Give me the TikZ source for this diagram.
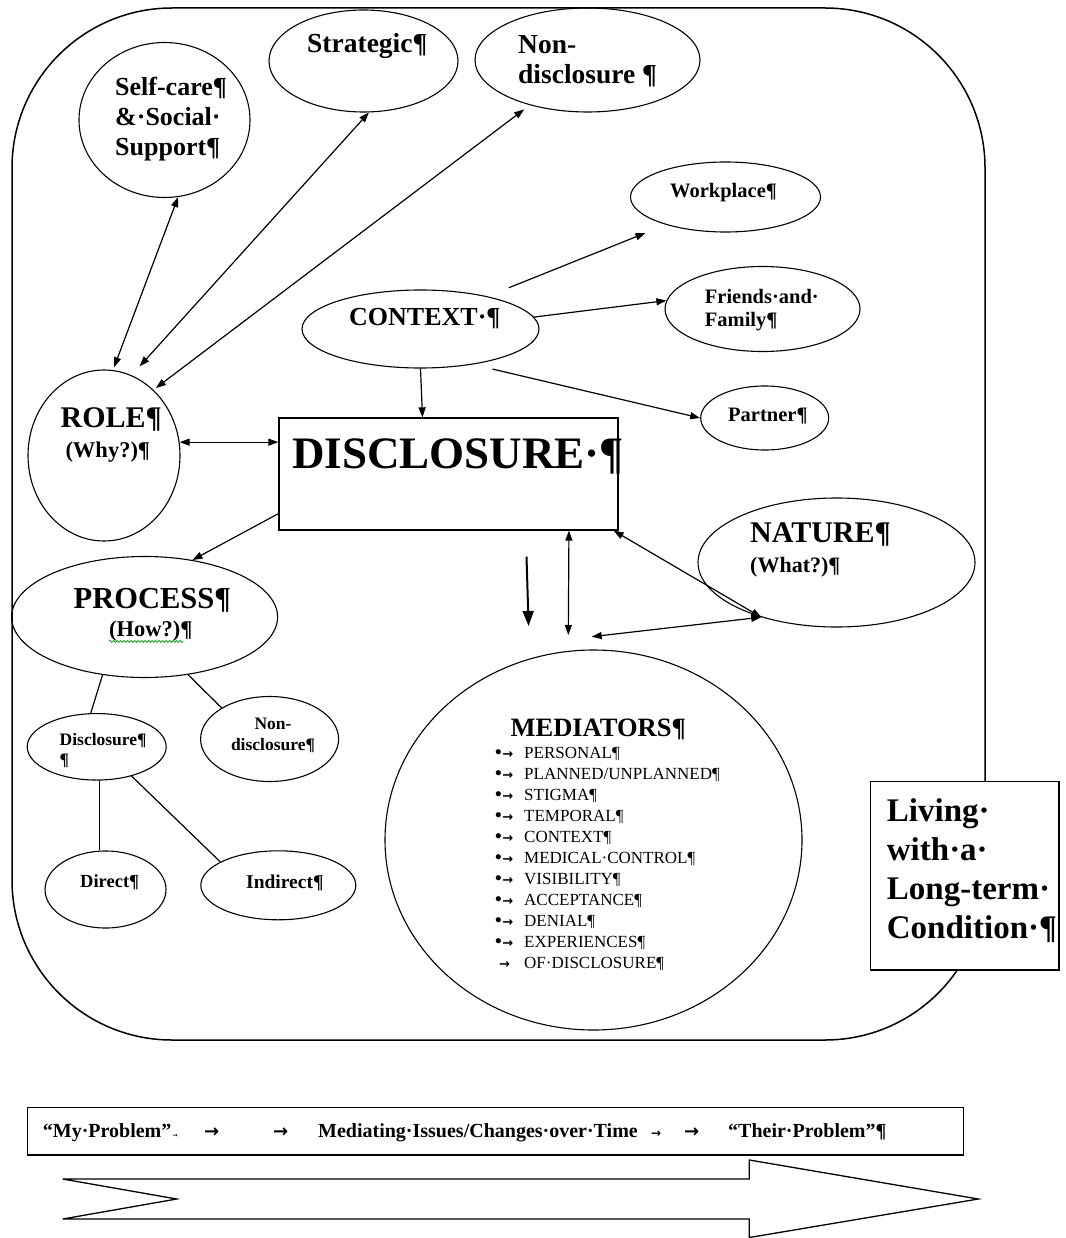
\documentclass[tikz,border=0pt]{standalone}
\usepackage{fontspec}
\setmainfont{Liberation Serif}
\newfontfamily\arrfont{DejaVu Sans}
\usetikzlibrary{shapes.geometric,arrows.meta,calc,decorations.pathmorphing}
\newcommand{\fsz}[2]{\fontsize{#1}{#2}\selectfont}
\newcommand{\medbul}{\makebox[29pt][l]{{\bfseries\fontsize{19}{19}\selectfont •}\hspace{0.5pt}{\arrfont\bfseries\fontsize{13}{13}\selectfont →}}}
\newcommand{\mednob}{\makebox[29pt][l]{\hspace{4pt}{\arrfont\bfseries\fontsize{13}{13}\selectfont →}}}
\newcommand{\tabarr}[1]{{\arrfont\bfseries\fontsize{#1}{#1}\selectfont →}}
\begin{document}
\begin{tikzpicture}[x=1pt,y=-1pt,
  ell/.style={draw, ellipse, inner sep=0pt, line width=1.1pt},
  txt/.style={anchor=west, inner sep=0pt, align=left},
  btxt/.style={anchor=base west, inner sep=0pt, font=\bfseries\fsz{20}{24}},
  lnk/.style={line width=1.2pt},
  tipone/.style={lnk, -{Triangle[length=10pt,width=7pt]}},
  tiptwo/.style={lnk, {Triangle[length=10pt,width=7pt]}-{Triangle[length=10pt,width=7pt]}}
]
\useasboundingbox (0,0) rectangle (1065,1238);
% outer frame
\draw[line width=1.5pt, rounded corners=160pt] (12,8) rectangle (985,1040);

% shapes
\node[ell, minimum width=171pt, minimum height=155pt] (self) at (164.5,120) {};
\node[ell, minimum width=189pt, minimum height=102pt] (strat) at (363.5,61) {};
\node[ell, minimum width=225pt, minimum height=104pt] (ndtop) at (587.5,60) {};
\node[ell, minimum width=190pt, minimum height=70pt] (work) at (725.5,197) {};
\node[ell, minimum width=195pt, minimum height=85pt] (friends) at (762.5,309) {};
\node[ell, minimum width=237pt, minimum height=78pt] (context) at (420.5,329) {};
\node[ell, minimum width=128pt, minimum height=64pt] (partner) at (764.7,418) {};
\node[ell, minimum width=152pt, minimum height=171pt] (role) at (104,455.5) {};
\node[draw, line width=1.3pt, minimum width=339pt, minimum height=112pt, inner sep=0pt] (disc) at (448.5,474) {};
\node[ell, minimum width=277pt, minimum height=129pt] (nature) at (836.5,562.5) {};
\node[ell, minimum width=266pt, minimum height=121pt] (proc) at (144.6,617) {};
\node[ell, minimum width=139pt, minimum height=66.5pt] (dsm) at (96.7,746.8) {};
\node[ell, minimum width=138pt, minimum height=85pt] (ndsm) at (269.6,739) {};
\node[ell, minimum width=121pt, minimum height=77pt] (direct) at (105.5,889.5) {};
\node[ell, minimum width=155pt, minimum height=69pt] (indirect) at (278.3,885.3) {};
\node[ell, minimum width=417pt, minimum height=380pt] (med) at (593.5,840) {};
\node[draw, fill=white, line width=1.3pt, minimum width=188.3pt, minimum height=188.3pt, inner sep=0pt] (living) at (964.85,875.85) {};
\node[draw, line width=1.3pt, minimum width=936pt, minimum height=47.3pt, inner sep=0pt] (bar) at (495.3,1131.3) {};

% big arrow
\draw[line width=1.3pt, line join=miter] (62.7,1179) -- (749.3,1179) -- (749.3,1160) -- (978.3,1199)
  -- (749.3,1237.5) -- (749.3,1219) -- (62.7,1219) -- (176.7,1199) -- cycle;

% free coordinates
\coordinate (medtop) at (568.3,635);
\coordinate (medtip) at (591.7,636.7);
\coordinate (fa1) at (526.5,556.7);
\coordinate (fa2) at (528.6,626);

% connectors
\draw[tiptwo, shorten >=3pt] (self.-80) -- (role.84);
\draw[tiptwo, shorten >=12pt] (strat.-84) -- (role.71);
\draw[tiptwo, shorten <=7pt, shorten >=3pt] (ndtop.-142) -- (role.53);
\draw[tipone, shorten <=23pt, shorten >=22pt] (context.26) -- (work.-155);
\draw[tipone] (context.6) -- (friends.175);
\draw[tipone, shorten <=20pt] (context.-34) -- (partner.west);
\draw[tipone] (context.south) -- ($(context.south |- disc.north)+(2,0)$);
\draw[tiptwo] (role.10) -- (role.10 -| disc.west);
\draw[tipone] ($(disc.south west)+(0,-17)$) -- (proc.50);
\draw[tiptwo] ([xshift=-49.7pt]disc.south east) -- (medtop);
\draw[tiptwo] ([xshift=-5pt]disc.south east) -- (nature.-144);
\draw[tiptwo] (nature.-144) -- (medtip);
\draw[line width=2pt, -{Triangle[length=15pt,width=11pt]}] (fa1) -- (fa2);
\draw[lnk] (proc.-126) -- (dsm.100);
\draw[lnk] (proc.-53) -- (ndsm.147);
\draw[lnk] ([xshift=3pt]dsm.south) -- ([xshift=3pt]dsm.south |- direct.north);
\draw[lnk] (dsm.-40) -- (indirect.158);

% texts
\node[txt, font=\bfseries\fsz{26}{30}] (selfT) at (115,119) {Self-care¶\\\&·Social·\\Support¶};
\node[txt, font=\bfseries\fsz{27.5}{30}] (stratT) at (307,46) {Strategic¶};
\node[txt, font=\bfseries\fsz{27.5}{30}] (ndtopT) at (518,61.5) {Non-\\disclosure ¶};
\node[txt, font=\bfseries\fsz{20.5}{23.5}] (workT) at (670,192.5) {Workplace¶};
\node[txt, font=\bfseries\fsz{20.5}{23.5}] (friendsT) at (704.7,310) {Friends·and·\\Family¶};
\node[txt, font=\bfseries\fsz{26}{30}] (contextT) at (349,318.5) {CONTEXT·¶};
\node[txt, font=\bfseries\fsz{20.5}{23.5}] (partnerT) at (728,416) {Partner¶};
\node[txt, font=\bfseries\fsz{30}{34}] (roleT) at (60.4,419.5) {ROLE¶};
\node[txt, font=\bfseries\fsz{22.5}{26}] (whyT) at (65.3,452.5) {(Why?)¶};
\node[txt, font=\bfseries\fsz{45}{50}] (discT) at (291.8,456) {DISCLOSURE·¶};
\node[txt, font=\bfseries\fsz{30}{34}] (natureT) at (750,534.5) {NATURE¶};
\node[txt, font=\bfseries\fsz{22}{26}] (whatT) at (750,567.5) {(What?)¶};
\node[txt, font=\bfseries\fsz{30.5}{34}] (procT) at (73.5,600) {PROCESS¶};
\node[txt, font=\bfseries\fsz{22.5}{26}] (howT) at (109,631) {(How?)¶};
\draw[green!60!black, line width=0.7pt, decorate, decoration={snake, amplitude=1pt, segment length=3.5pt}]
  ($(howT.south west)+(0,0)$) -- ($(howT.south west)+(74,0)$);
\node[txt, font=\bfseries\fsz{17.5}{20}] (dsmT) at (59.5,751) {Disclosure¶\\¶};
\node[inner sep=0pt, align=center, font=\bfseries\fsz{17.5}{21}] (ndsmT) at (273,735.5) {Non-\\disclosure¶};
\node[txt, font=\bfseries\fsz{18.5}{22}] (directT) at (80,882) {Direct¶};
\node[txt, font=\bfseries\fsz{19.5}{23}] (indirectT) at (246,883) {Indirect¶};
\node[txt, font=\bfseries\fsz{26.5}{30}] (medT) at (510.4,729) {MEDIATORS¶};
\node[txt, font=\fsz{17}{21}] (medL) at (495,859) {\medbul PERSONAL¶\\\medbul PLANNED/UNPLANNED¶\\\medbul STIGMA¶\\\medbul TEMPORAL¶\\\medbul CONTEXT¶\\\medbul MEDICAL·CONTROL¶\\\medbul VISIBILITY¶\\\medbul ACCEPTANCE¶\\\medbul DENIAL¶\\\medbul EXPERIENCES¶\\\mednob OF·DISCLOSURE¶};
\node[txt, font=\bfseries\fsz{33}{39}] (livT) at (886.7,870.5) {Living·\\with·a·\\Long-term·\\Condition·¶};

% bottom strip text
\node[btxt] (b1) at (42.7,1137) {“My·Problem”};
\node[btxt] (b1a) at (172.5,1137) {\tabarr{6}};
\node[btxt] (b2) at (204,1137) {\tabarr{18}};
\node[btxt] (b3) at (273,1137) {\tabarr{18}};
\node[btxt] (b4) at (318,1137) {Mediating·Issues/Changes·over·Time};
\node[btxt] (b4a) at (651,1137) {\tabarr{12}};
\node[btxt] (b5) at (684,1137) {\tabarr{18}};
\node[btxt] (b6) at (728,1137) {“Their·Problem”¶};
\end{tikzpicture}
\end{document}
